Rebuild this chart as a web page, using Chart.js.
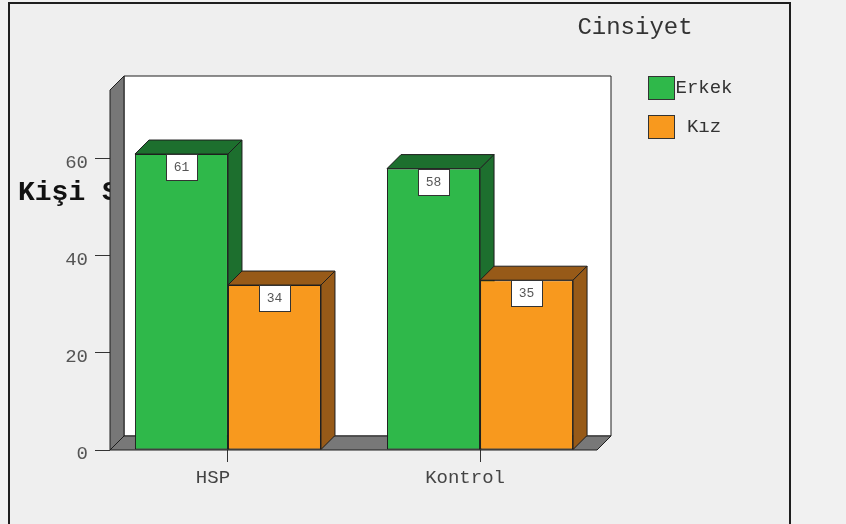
<!DOCTYPE html>
<html>
<head>
<meta charset="utf-8">
<script src="https://cdn.jsdelivr.net/npm/chart.js@4.4.1/dist/chart.umd.min.js"></script>
<style>
  html, body { margin: 0; padding: 0; background: #f1f1f1; }
  #wrap { width: 846px; height: 524px; position: relative; }
</style>
</head>
<body>
<div id="wrap"><canvas id="c" width="846" height="524"></canvas></div>
<script>
// Gruplar ve cinsiyete göre kişi sayıları
const categories = ['HSP', 'Kontrol'];
const seriesNames = ['Erkek', 'Kız'];
const erkek = [61, 58];
const kiz = [34, 35];
const yTicks = [0, 20, 40, 60];

const FONT = "'Liberation Mono', 'Courier New', monospace";
const DEPTH = 14;
const faceColors = ['#2fb84a', '#f8991e'];
const shadeColors = ['#1d6f2e', '#975a18'];
const EDGE = '#1e1e1e';

function poly(ctx, pts, fill) {
  ctx.beginPath();
  ctx.moveTo(pts[0][0], pts[0][1]);
  for (let i = 1; i < pts.length; i++) ctx.lineTo(pts[i][0], pts[i][1]);
  ctx.closePath();
  ctx.fillStyle = fill;
  ctx.fill();
  ctx.strokeStyle = EDGE;
  ctx.lineWidth = 1;
  ctx.stroke();
}

// Çerçeve, eksen başlığı, duvarlar ve çubukların derinlik yüzleri
const scenePlugin = {
  id: 'scene',
  beforeDraw(chart) {
    const ctx = chart.ctx;
    ctx.save();
    ctx.fillStyle = '#f1f1f1';
    ctx.fillRect(0, 0, chart.width, chart.height);
    ctx.fillStyle = '#efefef';
    ctx.fillRect(9, 4, 781, chart.height);
    ctx.strokeStyle = '#1e1e1e';
    ctx.lineWidth = 2;
    ctx.beginPath();
    ctx.moveTo(9, chart.height + 2);
    ctx.lineTo(9, 3);
    ctx.lineTo(790, 3);
    ctx.lineTo(790, chart.height + 2);
    ctx.stroke();
    // y ekseni başlığı (duvarın arkasında kalır)
    ctx.fillStyle = '#111';
    ctx.font = 'bold 28px ' + FONT;
    ctx.textAlign = 'left';
    ctx.textBaseline = 'middle';
    ctx.fillText('Kişi Sayısı', 18, 193);
    ctx.restore();
  },
  beforeDatasetsDraw(chart) {
    const ctx = chart.ctx;
    const a = chart.chartArea;
    const D = DEPTH;
    const L = a.left, R = a.right, T = a.top, B = a.bottom;
    ctx.save();
    // arka duvar
    poly(ctx, [[L + D, T - D], [R + D, T - D], [R + D, B - D], [L + D, B - D]], '#ffffff');
    // sol duvar
    poly(ctx, [[L, T], [L + D, T - D], [L + D, B - D], [L, B]], '#777777');
    // zemin
    poly(ctx, [[L, B], [L + D, B - D], [R + D, B - D], [R, B]], '#787878');
    // çubukların üst ve yan yüzleri
    for (let i = 0; i < categories.length; i++) {
      for (let d = 0; d < chart.data.datasets.length; d++) {
        const el = chart.getDatasetMeta(d).data[i];
        const x0 = el.x - el.width / 2, x1 = el.x + el.width / 2;
        const top = el.y, base = el.base;
        poly(ctx, [[x0, top], [x1, top], [x1 + D, top - D], [x0 + D, top - D]], shadeColors[d]);
        poly(ctx, [[x1, top], [x1 + D, top - D], [x1 + D, base - D], [x1, base]], shadeColors[d]);
      }
    }
    ctx.restore();
  },
  afterDatasetsDraw(chart) {
    const ctx = chart.ctx;
    ctx.save();
    // değer etiketleri
    ctx.font = '13px ' + FONT;
    ctx.textAlign = 'center';
    ctx.textBaseline = 'middle';
    chart.data.datasets.forEach((ds, d) => {
      chart.getDatasetMeta(d).data.forEach((el, i) => {
        const w = 31, h = 26;
        const bx = Math.round(el.x - w / 2) + 0.5, by = Math.round(el.y) + 0.5;
        ctx.fillStyle = '#ffffff';
        ctx.fillRect(bx, by, w, h);
        ctx.strokeStyle = '#333';
        ctx.lineWidth = 1;
        ctx.strokeRect(bx, by, w, h);
        ctx.fillStyle = '#555';
        ctx.fillText(String(ds.data[i].y), el.x, by + h / 2);
      });
    });
    // lejant
    ctx.fillStyle = '#333';
    ctx.font = '24px ' + FONT;
    ctx.textAlign = 'center';
    ctx.fillText('Cinsiyet', 635, 28);
    ctx.font = '19px ' + FONT;
    seriesNames.forEach((name, d) => {
      const y = 76 + d * 39;
      ctx.fillStyle = faceColors[d];
      ctx.fillRect(648.5, y + 0.5, 26, 23);
      ctx.strokeStyle = '#333';
      ctx.strokeRect(648.5, y + 0.5, 26, 23);
      ctx.fillStyle = '#333';
      ctx.fillText(name, 704, y + 12);
    });
    ctx.restore();
  }
};

const toPoints = arr => arr.map((v, i) => ({ x: i, y: v }));

new Chart(document.getElementById('c'), {
  type: 'bar',
  data: {
    datasets: [
      { label: seriesNames[0], data: toPoints(erkek), backgroundColor: faceColors[0],
        borderColor: EDGE, borderWidth: 1, borderSkipped: false },
      { label: seriesNames[1], data: toPoints(kiz), backgroundColor: faceColors[1],
        borderColor: EDGE, borderWidth: 1, borderSkipped: false }
    ]
  },
  options: {
    responsive: false,
    animation: false,
    events: [],
    layout: { padding: { left: 0, right: 249, top: 90, bottom: 0 } },
    datasets: { bar: { categoryPercentage: 0.738, barPercentage: 1 } },
    plugins: { legend: { display: false }, tooltip: { enabled: false } },
    scales: {
      x: {
        type: 'linear',
        offset: false,
        min: -0.468,
        max: 1.464,
        afterBuildTicks: s => { s.ticks = categories.map((c, i) => ({ value: i })); },
        afterFit: s => { s.height = 74; },
        grid: { offset: false, drawOnChartArea: false, tickLength: 12, color: '#333' },
        border: { display: false },
        ticks: {
          callback: v => categories[v],
          color: '#444',
          font: { family: FONT, size: 19 },
          padding: 5,
          labelOffset: -15,
          maxRotation: 0
        }
      },
      y: {
        min: 0,
        max: 74.2,
        afterBuildTicks: s => { s.ticks = yTicks.map(v => ({ value: v })); },
        afterFit: s => { s.width = 110; },
        grid: { drawOnChartArea: false, tickLength: 15, color: '#333' },
        border: { display: false },
        ticks: {
          color: '#555',
          font: { family: FONT, size: 19 },
          padding: 7,
          labelOffset: 4
        }
      }
    }
  },
  plugins: [scenePlugin]
});
</script>
</body>
</html>
